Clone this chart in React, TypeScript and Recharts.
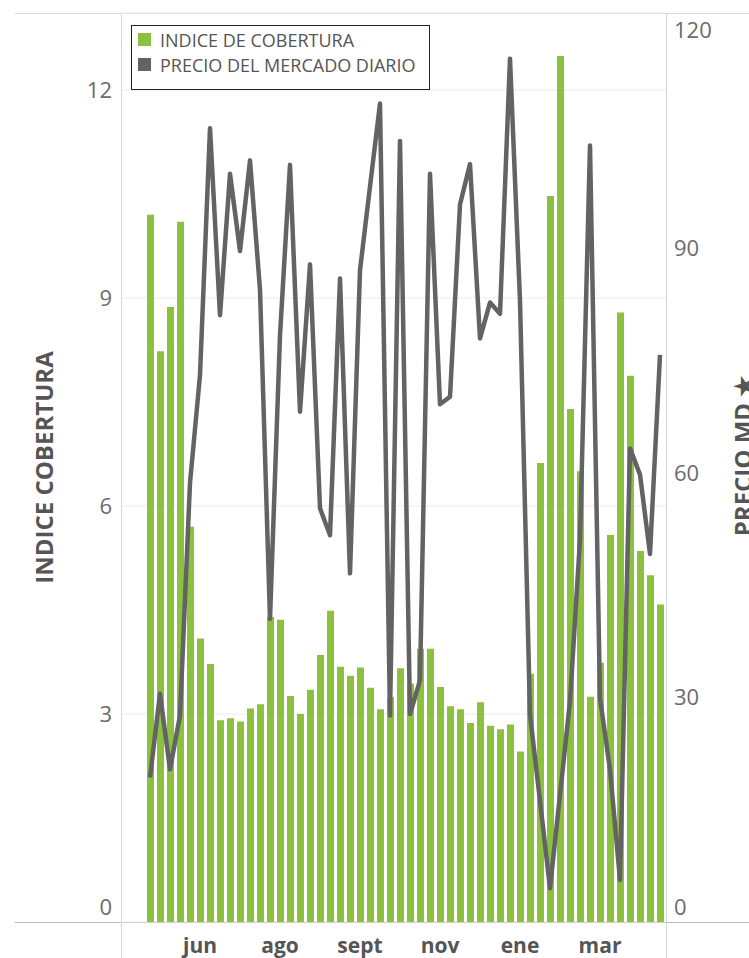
import React from "react";
import {
  ComposedChart,
  Bar,
  Line,
  XAxis,
  YAxis,
  CartesianGrid,
  Legend,
} from "recharts";

// weekly buckets, one bar per week
const WEEKS = [
  "sem 01", "sem 02", "sem 03", "sem 04", "sem 05", "sem 06", "sem 07", "sem 08",
  "sem 09", "sem 10", "sem 11", "sem 12", "sem 13", "sem 14", "sem 15", "sem 16",
  "sem 17", "sem 18", "sem 19", "sem 20", "sem 21", "sem 22", "sem 23", "sem 24",
  "sem 25", "sem 26", "sem 27", "sem 28", "sem 29", "sem 30", "sem 31", "sem 32",
  "sem 33", "sem 34", "sem 35", "sem 36", "sem 37", "sem 38", "sem 39", "sem 40",
  "sem 41", "sem 42", "sem 43", "sem 44", "sem 45", "sem 46", "sem 47", "sem 48",
  "sem 49", "sem 50", "sem 51", "sem 52",
];

const COBERTURA = [
  10.2, 8.23, 8.87, 10.1, 5.7, 4.09, 3.72, 2.91, 2.94, 2.89, 3.08, 3.14, 4.4,
  4.36, 3.26, 3.0, 3.35, 3.85, 4.49, 3.68, 3.55, 3.67, 3.38, 3.07, 3.24, 3.66,
  3.44, 3.94, 3.94, 3.39, 3.11, 3.07, 2.87, 3.17, 2.83, 2.78, 2.85, 2.46, 3.58,
  6.62, 10.47, 12.49, 7.4, 6.5, 3.25, 3.74, 5.58, 8.79, 7.88, 5.35, 5.0, 4.58,
];

const PRECIO = [
  19.3, 30.5, 20.4, 27.6, 58.7, 73.1, 106.1, 81.1, 100.0, 89.7, 101.8, 84.5,
  40.5, 78.4, 101.2, 68.2, 87.9, 55.3, 51.7, 86.0, 46.6, 87.1, 98.3, 109.4,
  27.6, 104.4, 27.8, 32.3, 100.0, 69.2, 70.2, 95.9, 101.3, 78.0, 82.8, 81.3,
  115.4, 83.0, 27.7, 16.2, 4.5, 17.0, 29.5, 51.1, 103.8, 29.9, 20.4, 5.6, 63.3,
  59.8, 49.2, 75.8,
];

const MONTH_TICKS = ["sem 06", "sem 14", "sem 22", "sem 30", "sem 38", "sem 46"];
const MONTH_LABELS = ["jun", "ago", "sept", "nov", "ene", "mar"];

const LEFT_TICKS = [0, 3, 6, 9, 12];
const RIGHT_TICKS = [0, 30, 60, 90, 120];

const GREEN = "#8cc13f";
const GREY = "#636363";
const FONT = '"Open Sans", sans-serif';

const data = WEEKS.map((week, i) => ({
  week,
  cobertura: COBERTURA[i],
  precio: PRECIO[i],
}));

function NumTick({ x, y, payload, textAnchor }: any) {
  // keep the end labels inside the pane, like the original
  const yy = Math.min(Math.max(y, 30), 907);
  return (
    <text
      x={x}
      y={yy}
      dy="0.35em"
      textAnchor={textAnchor}
      fontSize={22}
      fill="#6b6b6b"
      fontFamily={FONT}
    >
      {payload.value}
    </text>
  );
}

function MonthTick({ x, y, payload }: any) {
  const idx = MONTH_TICKS.indexOf(payload.value);
  return (
    <text
      x={x}
      y={y}
      dy={23}
      textAnchor="middle"
      fontSize={21}
      fontWeight={700}
      fill="#555"
      fontFamily={FONT}
    >
      {idx >= 0 ? MONTH_LABELS[idx] : ""}
    </text>
  );
}

function AxisTitle({ viewBox, value, dx, dy = 0 }: any) {
  const vb = viewBox ?? { x: 0, y: 13, width: 121, height: 909 };
  const cx = vb.x + dx;
  const cy = vb.y + vb.height / 2 + dy;
  return (
    <text
      x={cx}
      y={cy}
      transform={`rotate(-90 ${cx} ${cy})`}
      textAnchor="middle"
      dominantBaseline="central"
      fontSize={24}
      fontWeight={700}
      fill="#555"
      fontFamily={FONT}
    >
      {value}
    </text>
  );
}

function LegendBox({ payload }: any) {
  return (
    <div
      style={{
        width: 299,
        height: 65,
        boxSizing: "border-box",
        border: "1px solid #222",
        background: "#fff",
        paddingTop: 1,
        paddingLeft: 6,
        fontFamily: FONT,
      }}
    >
      {(payload ?? []).map((p: any) => (
        <div
          key={p.value}
          style={{ display: "flex", alignItems: "center", height: 25 }}
        >
          <span
            style={{
              width: 13,
              height: 13,
              background: p.color,
              marginRight: 9,
              display: "inline-block",
            }}
          />
          <span style={{ fontSize: 18, color: "#555", whiteSpace: "nowrap" }}>
            {p.value}
          </span>
        </div>
      ))}
    </div>
  );
}

// pane frame lines that run past the plot area
const frame: React.CSSProperties[] = [
  { left: 15, top: 13, width: 734, height: 1, background: "#d6d6d6" },
  { left: 15, top: 922, width: 734, height: 1, background: "#b8b8b8" },
  { left: 121, top: 13, width: 1, height: 945, background: "#d6d6d6" },
  { left: 666, top: 13, width: 1, height: 945, background: "#d6d6d6" },
];

export default function App() {
  return (
    <div
      style={{
        position: "absolute",
        left: 0,
        top: 0,
        width: 749,
        height: 958,
        overflow: "hidden",
        background: "#fff",
      }}
    >
      {frame.map((s, i) => (
        <div key={i} style={{ position: "absolute", ...s }} />
      ))}
      <div style={{ position: "absolute", left: 0, top: 0 }}>
        <ComposedChart
          width={749}
          height={958}
          data={data}
          margin={{ top: 13, right: 0, bottom: 0, left: 0 }}
        >
          <CartesianGrid
            yAxisId="left"
            vertical={false}
            stroke="#ececec"
          />
          <XAxis
            dataKey="week"
            ticks={MONTH_TICKS}
            interval={0}
            height={36}
            padding={{ left: 24, right: 1 }}
            axisLine={false}
            tickLine={false}
            tick={<MonthTick />}
          />
          <YAxis
            yAxisId="left"
            orientation="left"
            width={121}
            domain={[0, 13.11]}
            ticks={LEFT_TICKS}
            axisLine={false}
            tickLine={false}
            tickSize={6}
            tickMargin={3}
            tick={<NumTick />}
            label={(props: any) => (
              <AxisTitle viewBox={props.viewBox} value="INDICE COBERTURA" dx={43} />
            )}
          />
          <YAxis
            yAxisId="right"
            orientation="right"
            width={83}
            domain={[0, 121.5]}
            ticks={RIGHT_TICKS}
            axisLine={false}
            tickLine={false}
            tickSize={6}
            tickMargin={2}
            tick={<NumTick />}
            label={(props: any) => (
              <AxisTitle
                viewBox={props.viewBox}
                value="PRECIO MD ★"
                dx={76}
                dy={-12}
              />
            )}
          />
          <Legend
            layout="vertical"
            align="center"
            verticalAlign="middle"
            content={<LegendBox />}
            wrapperStyle={{ left: 131, top: 25, width: 299, height: 65 }}
          />
          <Bar
            yAxisId="left"
            dataKey="cobertura"
            name="INDICE DE COBERTURA"
            fill={GREEN}
            barSize={7}
            isAnimationActive={false}
          />
          <Line
            yAxisId="right"
            dataKey="precio"
            name="PRECIO DEL MERCADO DIARIO"
            type="linear"
            stroke={GREY}
            strokeWidth={4.5}
            strokeLinejoin="round"
            dot={false}
            activeDot={false}
            isAnimationActive={false}
          />
        </ComposedChart>
      </div>
    </div>
  );
}
